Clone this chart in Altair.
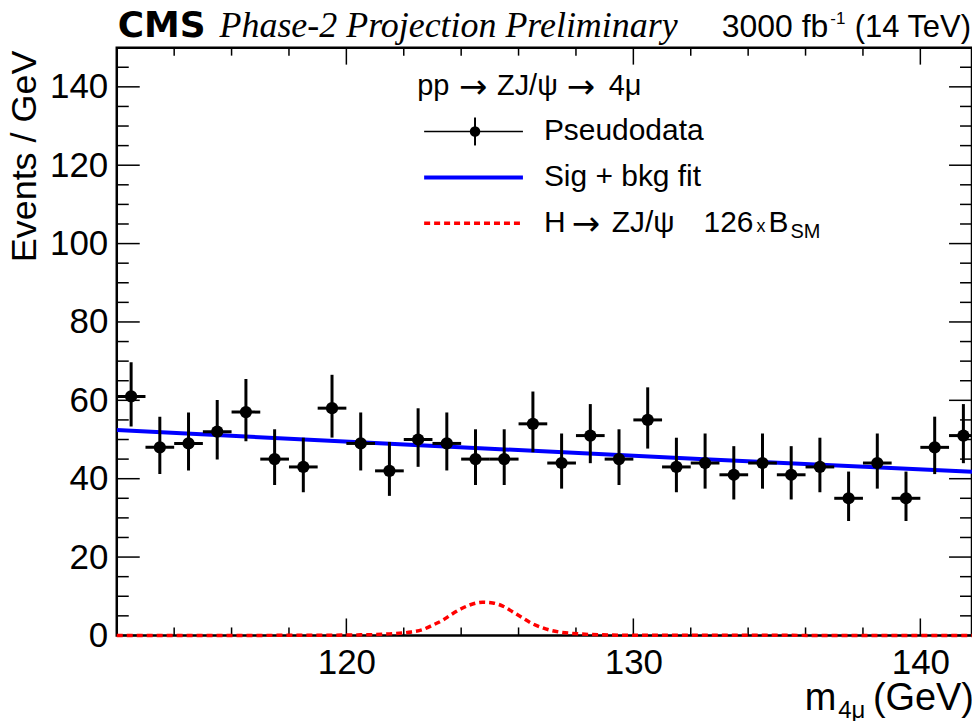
import math
import altair as alt
import pandas as pd

# ---------------- data ----------------
bin_centers = [112.5, 113.5, 114.5, 115.5, 116.5, 117.5, 118.5, 119.5, 120.5, 121.5,
               122.5, 123.5, 124.5, 125.5, 126.5, 127.5, 128.5, 129.5, 130.5, 131.5,
               132.5, 133.5, 134.5, 135.5, 136.5, 137.5, 138.5, 139.5, 140.5, 141.5]
counts = [61, 48, 49, 52, 57, 45, 43, 58, 49, 42,
          50, 49, 45, 45, 54, 44, 51, 45, 55, 43,
          44, 41, 44, 41, 43, 35, 44, 35, 48, 51]
bin_half_width = 0.5

fit_x = [112.0, 121.86, 132.3, 141.8]
fit_y = [52.4, 48.8, 45.0, 41.8]

sig_x = [112.0, 118.0, 120.5, 121.5, 122.26, 122.66, 123.0, 123.36, 123.65, 124.0,
         124.35, 124.75, 125.1, 125.45, 125.8, 126.09, 126.43, 126.78, 127.13,
         127.48, 127.9, 128.5, 130.0, 141.8]
sig_y = [0.0, 0.02, 0.15, 0.4, 0.9, 1.5, 2.6, 3.9, 5.3, 6.8,
         7.9, 8.5, 8.3, 7.5, 6.0, 4.7, 3.2, 2.1, 1.3,
         0.8, 0.5, 0.25, 0.05, 0.0]

x_domain = [112.0, 141.8]
y_domain = [0, 150]
x_major = [120, 130, 140]
x_minor = [114, 116, 118, 122, 124, 126, 128, 132, 134, 136, 138]
y_major = [0, 20, 40, 60, 80, 100, 120, 140]
y_minor = [5, 10, 15, 25, 30, 35, 45, 50, 55, 65, 70, 75, 85, 90, 95,
           105, 110, 115, 125, 130, 135, 145]

# ---------------- layout ----------------
W, H = 857, 589
SANS = "Liberation Sans"
WIDE = "DejaVu Sans"
SERIF = "Liberation Serif"

xs = alt.Scale(domain=x_domain, nice=False, zero=False)
ys = alt.Scale(domain=y_domain, nice=False, zero=False)

XAX = alt.Axis(values=x_major, labelFont=SANS, labelFontSize=35, labelColor="black",
               tickSize=0, domain=False, grid=False, labelPadding=10, title=None,
               labelFlush=False)
YAX = alt.Axis(values=y_major, labelFont=SANS, labelFontSize=35, labelColor="black",
               tickSize=0, domain=False, grid=False, labelPadding=9, title=None)


def X(field):
    return alt.X(field, type="quantitative", scale=xs, axis=XAX)


def Y(field):
    return alt.Y(field, type="quantitative", scale=ys, axis=YAX)


# Poisson (Garwood-like) error bars from the counts
data = pd.DataFrame({"x": bin_centers, "n": counts})
data["lo"] = [n - (math.sqrt(n + 0.25) - 0.5) for n in counts]
data["hi"] = [n + (math.sqrt(n + 0.25) + 0.5) for n in counts]
data["xl"] = data["x"] - bin_half_width
data["xh"] = data["x"] + bin_half_width

# axis carrier (invisible)
axes_layer = alt.Chart(pd.DataFrame({"x": x_domain, "y": y_domain})).mark_point(opacity=0).encode(
    x=X("x"), y=Y("y"))


# inner ticks (ROOT style, on all four sides)
def xticks(vals, length):
    df = pd.DataFrame({"x": vals})
    bot = alt.Chart(df).mark_rule(color="black", strokeWidth=1.5).encode(
        x=X("x"), y=alt.value(H), y2=alt.value(H - length))
    top = alt.Chart(df).mark_rule(color="black", strokeWidth=1.5).encode(
        x=X("x"), y=alt.value(0), y2=alt.value(length))
    return [bot, top]


def yticks(vals, length):
    df = pd.DataFrame({"y": vals})
    left = alt.Chart(df).mark_rule(color="black", strokeWidth=1.5).encode(
        y=Y("y"), x=alt.value(0), x2=alt.value(length))
    right = alt.Chart(df).mark_rule(color="black", strokeWidth=1.5).encode(
        y=Y("y"), x=alt.value(W), x2=alt.value(W - length))
    return [left, right]


tick_layers = xticks(x_major, 17) + xticks(x_minor, 8) + yticks(y_major, 23) + yticks(y_minor, 12)

# fit line
fit_layer = alt.Chart(pd.DataFrame({"x": fit_x, "y": fit_y})).mark_line(
    color="#0000ff", strokeWidth=4, clip=True).encode(x=X("x"), y=Y("y"))

# data points with error bars
vbar = alt.Chart(data).mark_rule(color="black", strokeWidth=3, strokeCap="square", clip=True).encode(
    x=X("x"), y=Y("lo"), y2="hi:Q")
hbar = alt.Chart(data).mark_rule(color="black", strokeWidth=3, clip=True).encode(
    x=X("xl"), x2="xh:Q", y=Y("n"))
pts = alt.Chart(data).mark_point(shape="circle", filled=True, color="black", opacity=1,
                                 size=150, clip=True).encode(x=X("x"), y=Y("n"))

# signal
sig_layer = alt.Chart(pd.DataFrame({"x": sig_x, "y": sig_y})).mark_line(
    color="#ff0000", strokeWidth=3.5, strokeDash=[6, 4], interpolate="monotone").encode(
    x=X("x"), y=Y("y"))


def label(text, x, y, size, font=SANS, weight="normal", style="normal", align="left",
          baseline="alphabetic", angle=0):
    return alt.Chart(pd.DataFrame({"t": [text]})).mark_text(
        font=font, fontSize=size, fontWeight=weight, fontStyle=style, align=align,
        baseline=baseline, angle=angle, color="black").encode(
        x=alt.value(x), y=alt.value(y), text="t:N")


texts = [
    # header
    label("CMS", 1, -11, 36, font=WIDE, weight="bold"),
    label("Phase-2 Projection Preliminary", 103, -11, 36, font=SERIF, style="italic"),
    label("3000 fb", 713, -11, 32, align="right"),
    label("-1", 715, -24, 17),
    label("(14 TeV)", 856, -11, 31, align="right"),
    # axis titles
    label("Events / GeV", -92, 3, 36, align="right", baseline="middle", angle=270),
    label("(GeV)", 859, 664, 38, align="right"),
    label("m", 721, 664, 38, align="right"),
    label("4μ", 723, 672, 24),
    # legend header
    label("pp", 301, 38, 29, baseline="middle"),
    label("→", 343, 40, 34, font=WIDE, baseline="middle"),
    label("ZJ/ψ", 381, 38, 29, baseline="middle"),
    label("→", 451, 40, 34, font=WIDE, baseline="middle"),
    label("4μ", 493, 38, 29, baseline="middle"),
    # legend entries
    label("Pseudodata", 428, 84, 30, baseline="middle"),
    label("Sig + bkg fit", 428, 130, 30, baseline="middle"),
    label("H", 428, 176, 30, baseline="middle"),
    label("→", 456, 178, 34, font=WIDE, baseline="middle"),
    label("ZJ/ψ", 496, 176, 30, baseline="middle"),
    label("126", 588, 176, 30, baseline="middle"),
    label("x", 641, 180, 18, baseline="middle"),
    label("B", 653, 176, 30, baseline="middle"),
    label("SM", 675, 185, 20, baseline="middle"),
]

dummy = pd.DataFrame({"a": [0]})
legend_syms = [
    alt.Chart(dummy).mark_rule(color="black", strokeWidth=1.5).encode(
        x=alt.value(308), x2=alt.value(407), y=alt.value(84)),
    alt.Chart(dummy).mark_rule(color="black", strokeWidth=2).encode(
        x=alt.value(359), y=alt.value(70), y2=alt.value(98)),
    alt.Chart(dummy).mark_point(shape="circle", filled=True, color="black", opacity=1, size=110).encode(
        x=alt.value(359), y=alt.value(84)),
    alt.Chart(dummy).mark_rule(color="#0000ff", strokeWidth=4).encode(
        x=alt.value(308), x2=alt.value(407), y=alt.value(130)),
    alt.Chart(dummy).mark_rule(color="#ff0000", strokeWidth=3.5, strokeDash=[6, 4]).encode(
        x=alt.value(308), x2=alt.value(407), y=alt.value(176)),
]

chart = alt.layer(
    axes_layer, *tick_layers, fit_layer, vbar, hbar, pts, sig_layer, *legend_syms, *texts
).properties(
    width=W, height=H,
    padding={"left": 109, "top": 39, "right": 0, "bottom": 85},
    autosize=alt.AutoSizeParams(type="none"),
    background="white",
).configure_view(stroke="black", strokeWidth=2.5)

chart.save("out.html", embed_options={"renderer": "svg", "actions": False})
